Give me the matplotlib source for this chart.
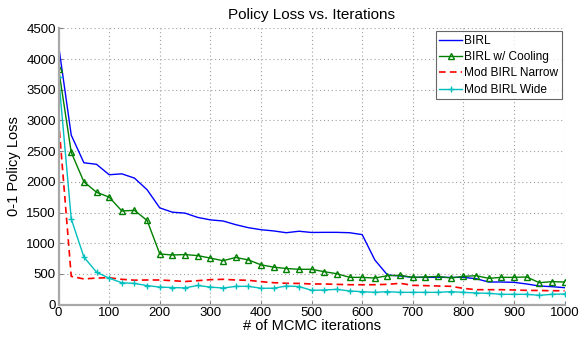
import matplotlib
matplotlib.use("Agg")
import matplotlib.pyplot as plt
import numpy as np

iterations = list(range(0, 1001, 25))

birl = [4220, 2760, 2310, 2285, 2115, 2130, 2060, 1870, 1575, 1505, 1490, 1420, 1380, 1362, 1302,
        1253, 1220, 1200, 1171, 1195, 1175, 1177, 1177, 1171, 1140, 727, 482, 466, 444, 444,
        444, 444, 444, 422, 368, 368, 363, 336, 303, 292, 276]

birl_cooling = [3840, 2480, 2000, 1830, 1750, 1525, 1535, 1370, 825, 808, 815, 798, 758, 715, 768,
                728, 648, 610, 588, 575, 575, 536, 503, 444, 444, 433, 471, 477, 444, 450,
                460, 433, 460, 471, 428, 444, 444, 450, 357, 374, 368]

mod_narrow = [3000, 460, 418, 433, 438, 412, 398, 401, 401, 390, 376, 390, 406, 412, 401,
              396, 374, 357, 347, 345, 336, 336, 330, 324, 324, 324, 330, 347, 314, 309,
              303, 298, 265, 243, 243, 243, 238, 232, 230, 226, 226]

mod_wide = [3715, 1395, 775, 528, 430, 356, 345, 310, 285, 278, 272, 312, 285, 270, 297,
            298, 266, 267, 303, 295, 233, 238, 249, 222, 211, 200, 211, 200, 200, 200,
            200, 211, 200, 189, 184, 168, 168, 168, 151, 168, 173]

xticks = [0, 100, 200, 300, 400, 500, 600, 700, 800, 900, 1000]
yticks = [0, 500, 1000, 1500, 2000, 2500, 3000, 3500, 4000, 4500]

plt.rcParams['font.family'] = ['Liberation Sans', 'DejaVu Sans']

fig = plt.figure(figsize=(5.79, 3.37), dpi=100)
ax = fig.add_axes([0.1012, 0.0961, 0.8739, 0.8199])

ax.plot(iterations, birl, color='#0000ff', lw=1.0, label='BIRL')
ax.plot(iterations, birl_cooling, color='#008000', lw=1.0, marker='^', ms=4.5,
        mfc='none', mec='#008000', mew=1.0, label='BIRL w/ Cooling')
ax.plot(iterations, mod_narrow, color='#ff0000', lw=1.2, ls=(0, (4, 2.5)), label='Mod BIRL Narrow')
ax.plot(iterations, mod_wide, color='#00bfbf', lw=1.0, marker='+', ms=5, mew=1.0,
        label='Mod BIRL Wide')

ax.set_xlim(0, 1000)
ax.set_ylim(0, 4500)
ax.set_xticks(xticks)
ax.set_yticks(yticks)
ax.tick_params(direction='in', length=3, color='#808080', labelsize=9.5, pad=2)

ax.grid(True, ls=(0, (1, 2.5)), color='#a0a0a0', lw=0.8)
for s in ['top', 'right']:
    ax.spines[s].set_visible(False)
for s in ['left', 'bottom']:
    ax.spines[s].set_color('#a8a8a8')
    ax.spines[s].set_linewidth(1.6)

ax.set_title('Policy Loss vs. Iterations', fontsize=11, pad=7)
ax.set_xlabel('# of MCMC iterations', fontsize=10.5, labelpad=0)
ax.set_ylabel('0-1 Policy Loss', fontsize=10.5, labelpad=4)

leg = ax.legend(loc='upper right', fontsize=8.6, frameon=True, fancybox=False,
                handlelength=1.9, handletextpad=0.15, borderpad=0.3, labelspacing=0.36,
                borderaxespad=0.25)
leg.get_frame().set_edgecolor('#404040')
leg.get_frame().set_linewidth(0.8)

fig.savefig('out.png', dpi=100)
